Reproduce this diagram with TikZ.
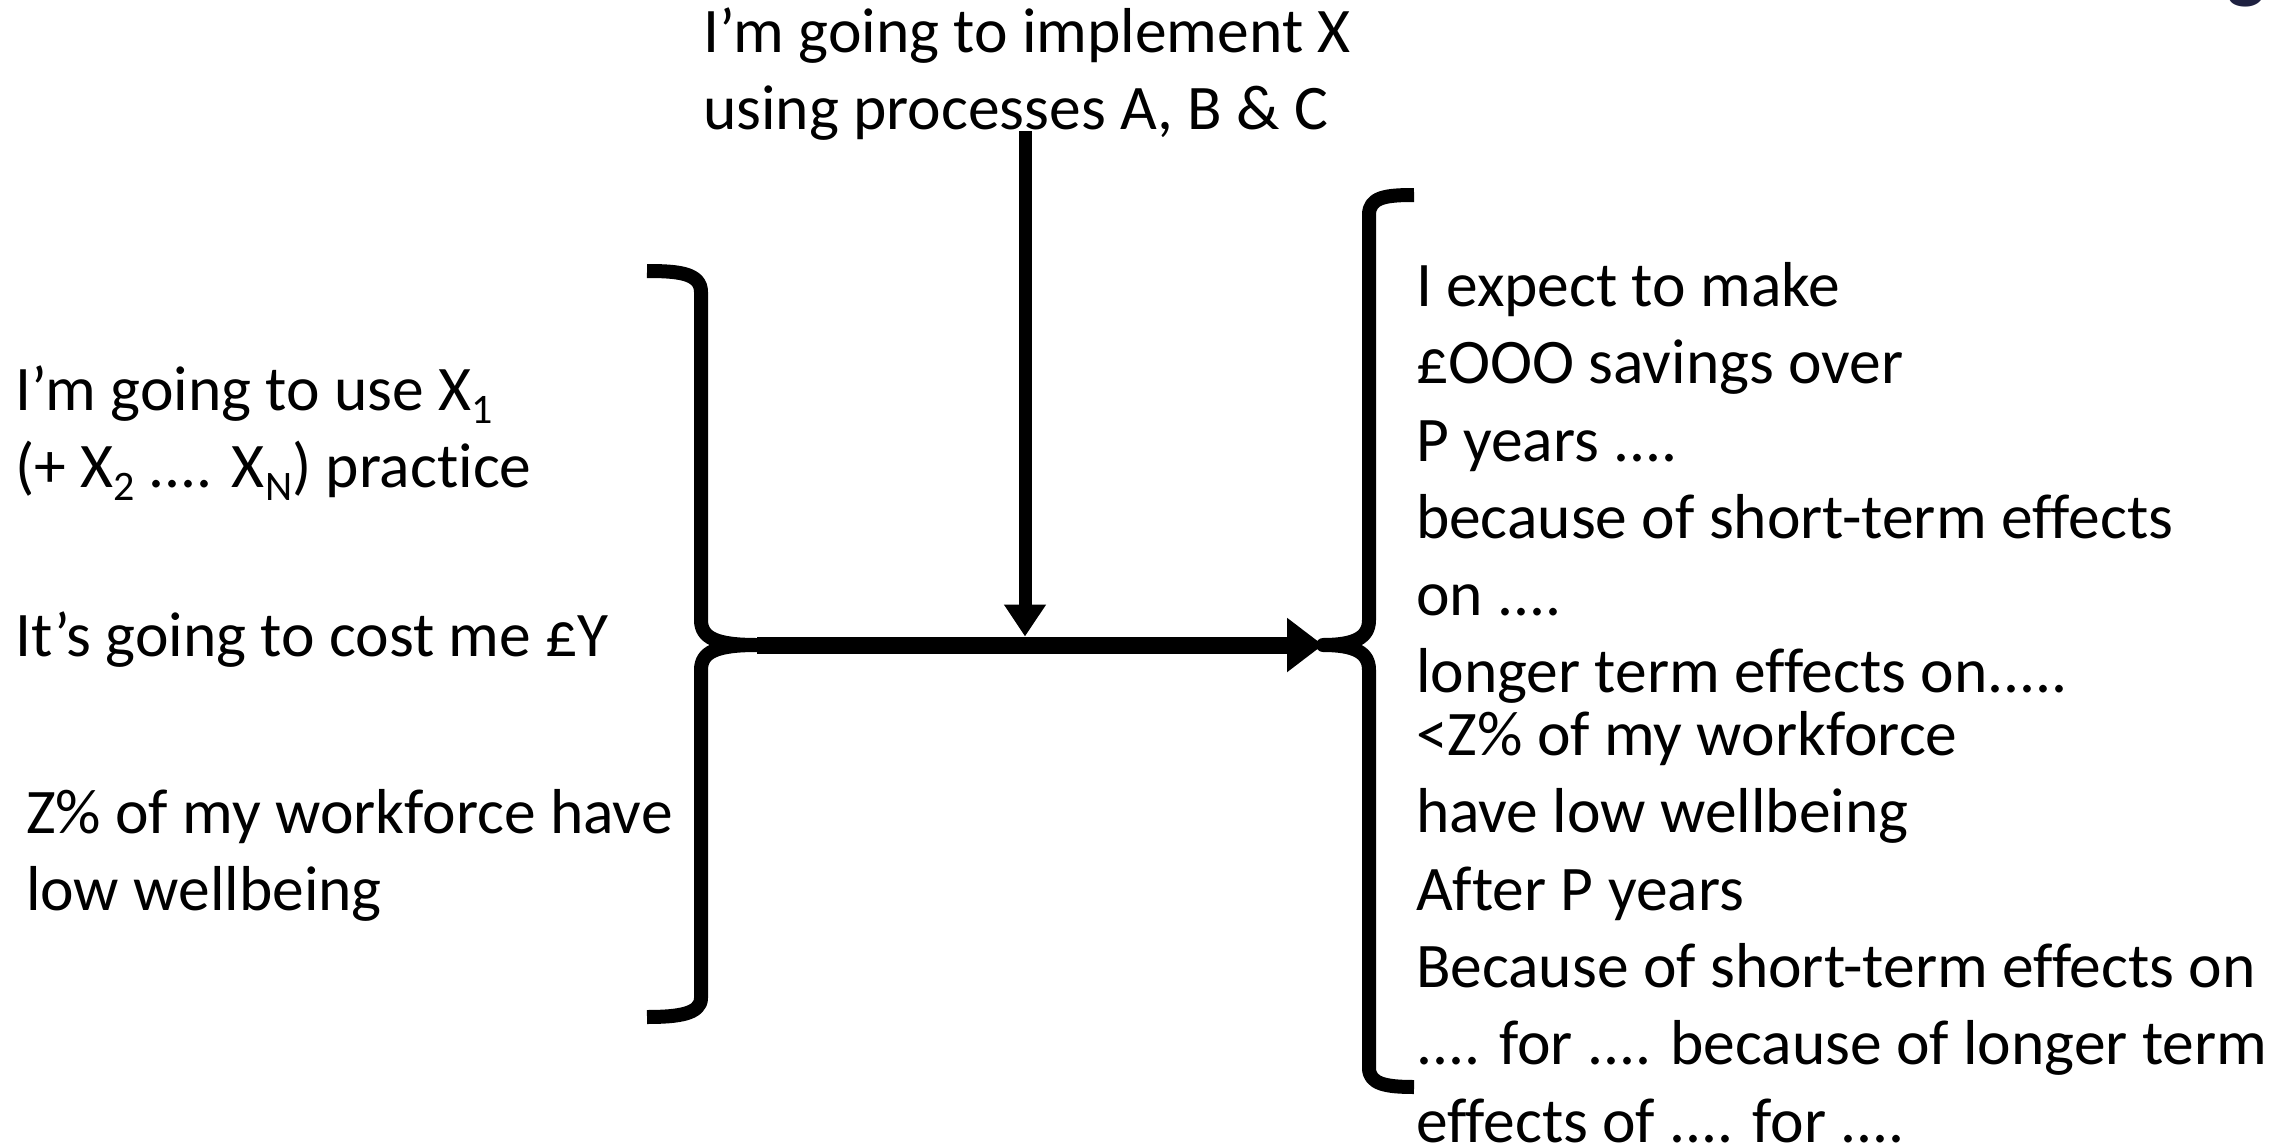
\documentclass[tikz,border=0pt]{standalone}
\usepackage{fontspec}
\setmainfont{Carlito}[Ligatures=NoCommon]
\usetikzlibrary{arrows.meta}
\definecolor{logonavy}{HTML}{1E2140}
\newcommand\txtlines[1]{\vtop{\halign{##\hfil\cr #1\crcr}}}
\newcommand\subs[1]{\raisebox{-13pt}{\fontsize{42}{42}\selectfont #1}}
\tikzset{
  txt/.style={anchor=base west, inner sep=0pt, outer sep=0pt,
    font=\fontsize{63.5}{77.3}\selectfont},
  bracebar/.style={line width=14pt, line cap=butt, line join=round},
  mainarrow/.style={line width=17pt, -{Triangle[length=36pt, width=52pt]}},
  sidearrow/.style={line width=13pt, -{Triangle[length=32pt, width=40pt]}}
}
\begin{document}
\begin{tikzpicture}[x=1pt,y=-1pt]
\useasboundingbox (0,0) rectangle (2287,1143);
% logo fragment
\node[anchor=base east, inner sep=0pt, text=logonavy,
  font=\fontsize{80}{80}\selectfont\bfseries] (logo) at (2266,-6) {g};
% texts
\node[txt] (top) at (703,52.6) {\txtlines{I’m going to implement X\cr using processes A, B \& C}};
\node[txt] (use) at (15,410) {\txtlines{I’m going to use X\subs{1}\cr (+ X\subs{2} .... X\subs{N}) practice}};
\node[txt] (cost) at (15,656.5) {It’s going to cost me £Y};
\node[txt] (work) at (26,833) {\txtlines{Z\% of my workforce have\cr low wellbeing}};
\node[txt] (expect) at (1416,306.4) {\txtlines{I expect to make\cr £OOO savings over\cr P years ....\cr because of short-term effects\cr on ....\cr longer term effects on.....}};
\node[txt] (less) at (1416,755.6) {\txtlines{<Z\% of my workforce\cr have low wellbeing\cr After P years\cr Because of short-term effects on\cr .... for .... because of longer term\cr effects of .... for ....}};
% brace tips
\coordinate (ltip) at (757,645);
\coordinate (rtip) at (1323,645);
\coordinate (vstart) at (1025,131);
\coordinate (vend) at (1025,636.5);
% left brace
\draw[bracebar] (647,271) .. controls (678,271) and (701,273) .. (701,292)
  -- (701,620) .. controls (701,638) and (716,645) .. (ltip)
  .. controls (716,645) and (701,652) .. (701,670)
  -- (701,998) .. controls (701,1014) and (678,1017) .. (647,1017);
% right brace
\draw[bracebar] (1414,195) .. controls (1386,195) and (1369,197) .. (1369,215)
  -- (1369,620) .. controls (1369,638) and (1354,645) .. (rtip)
  .. controls (1354,645) and (1369,652) .. (1369,670)
  -- (1369,1068) .. controls (1369,1084) and (1386,1087) .. (1414,1087);
% arrows
\draw[mainarrow] (ltip) -- (rtip);
\draw[sidearrow] (vstart) -- (vend);
\end{tikzpicture}
\end{document}
